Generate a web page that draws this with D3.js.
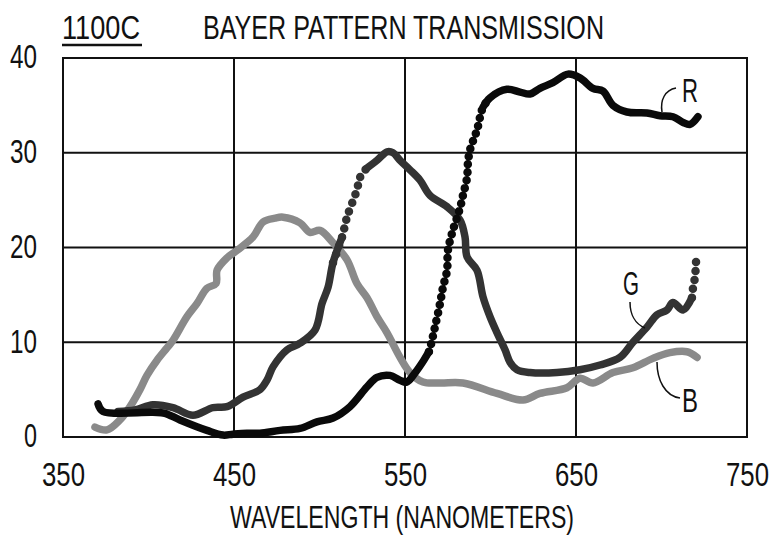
<!DOCTYPE html>
<html>
<head>
<meta charset="utf-8">
<script src="https://cdn.jsdelivr.net/npm/d3@7/dist/d3.min.js"></script>
<style>
  html, body { margin: 0; padding: 0; background: #fff; }
  svg { display: block; }
  text { font-family: "Liberation Sans Narrow", "Liberation Sans", Arial, sans-serif; fill: #111; }
</style>
</head>
<body>
<svg id="chart" width="776" height="535"></svg>
<script>
// ---- data (wavelength nm, transmission) ----
const xTicks = [350, 450, 550, 650, 750];
const yTicks = [0, 10, 20, 30, 40];

const redWl  = [370.5,373.4,402.6,409.6,418.4,434.2,443.6,449.4,457.6,465.2,476.9,488.6,498.5,507.9,517.8,527.8,533.6,541.2,547,551,556,561,564,565.5,567.5,570.5,572.2,574.6,575.1,577.5,582.2,583.9,586.3,586.8,588,592.1,595.6,599.7,609.6,617.3,623.1,628.9,636.5,645.3,652.3,659.9,665.8,671.6,679.8,691.5,699.1,706.7,712.6,716.7,721.3];
const redVal = [3.5,2.7,2.6,2.5,1.8,0.7,0.2,0.3,0.4,0.4,0.7,0.9,1.6,2.0,3.2,5.3,6.3,6.5,6.0,5.8,6.8,8.1,9.0,10.0,11.6,14.1,15.8,17.6,19.7,21.5,24.2,25.5,27.4,28.9,30.3,32.4,34.8,35.8,36.7,36.4,36.2,36.8,37.4,38.3,37.9,36.8,36.5,35.0,34.3,34.2,33.9,33.8,33.2,33.0,33.8];

const greenWl  = [382.2,392.1,402.6,414.3,426,437.7,445.9,455.3,465.2,469.3,472.8,481,488.6,497.4,501.5,505,507.9,513.2,516.1,521.9,523.7,527.8,533.6,539.5,543,547.1,552.9,558.8,564.6,574.6,582.2,585.1,586.3,592.1,595.6,599.7,603.8,608.5,611.4,615.5,623.1,638.9,652.3,664,675.7,683.3,691.5,697.4,703.2,706.7,712.6,717.8,718.4,719.6,720.2];
const greenVal = [2.7,2.85,3.4,3.1,2.3,3.1,3.2,4.2,5.0,6.0,7.4,9.2,9.9,11.3,14.1,15.8,18.4,21.1,23.2,26.1,27.4,28.4,29.2,30.1,30.0,29.2,28.2,27.1,25.5,24.3,22.9,21.1,19.0,17.6,14.8,12.7,11.0,9.2,7.9,7.1,6.8,6.8,7.1,7.6,8.4,10.0,11.6,12.9,13.4,14.2,13.4,14.7,15.7,16.9,18.5];

const blueWl  = [368.7,375.7,383.3,389.2,395,399.1,405,410.8,414.3,422.5,428.4,434.2,439.5,440.1,445.9,451.8,461.1,467,474,478.7,488.6,494.4,500.3,507.9,516.1,521.9,527.8,533.6,539.5,547.1,552.9,560.5,570.5,583.9,603.8,619,628.9,644.7,652.3,659.9,671.6,683.3,695,704.9,714.9,720.8];
const blueVal = [1.05,0.75,1.8,3.2,5.0,6.5,8.1,9.4,10.2,12.7,14.1,15.7,16.2,17.6,18.9,19.7,21.1,22.7,23.1,23.2,22.6,21.6,21.8,20.5,18.7,16.2,14.7,12.7,11.0,8.4,6.8,5.8,5.7,5.7,4.6,3.9,4.6,5.2,6.2,5.7,6.8,7.3,8.3,8.9,9.0,8.4];

// wavelength ranges drawn as a dotted trace
const redDotted   = [[564, 596]];
const greenDotted = [[513, 527], [718, 721]];
const blueDotted  = [];

const seriesNames = ["R", "G", "B"];

// ---- layout ----
const FONT = '"Liberation Sans Narrow", "Liberation Sans", Arial, sans-serif';
const svg = d3.select("#chart");
const x = d3.scaleLinear().domain([350, 750]).range([63, 747]);
const y = d3.scaleLinear().domain([0, 40]).range([437, 58]);

// grid lines
svg.append("g").selectAll("line").data(xTicks.slice(1, -1)).join("line")
  .attr("x1", d => x(d)).attr("x2", d => x(d))
  .attr("y1", y(40)).attr("y2", y(0))
  .attr("stroke", "#111").attr("stroke-width", 2);
svg.append("g").selectAll("line").data(yTicks.slice(1, -1)).join("line")
  .attr("x1", x(350)).attr("x2", x(750))
  .attr("y1", d => y(d)).attr("y2", d => y(d))
  .attr("stroke", "#111").attr("stroke-width", 2);
svg.append("rect")
  .attr("x", x(350)).attr("y", y(40))
  .attr("width", x(750) - x(350)).attr("height", y(0) - y(40))
  .attr("fill", "none").attr("stroke", "#111").attr("stroke-width", 2);

// axes (labels only)
const xAxis = svg.append("g").attr("transform", `translate(0,${y(0)})`)
  .call(d3.axisBottom(x).tickValues(xTicks).tickSize(0).tickPadding(26).tickFormat(d3.format("d")));
xAxis.select(".domain").remove();
xAxis.selectAll("text").attr("font-size", 33).attr("fill", "#111")
  .attr("textLength", 43).attr("lengthAdjust", "spacingAndGlyphs")
  .style("font-family", FONT);

const yAxis = svg.append("g").attr("transform", `translate(${x(350)},0)`)
  .call(d3.axisLeft(y).tickValues(yTicks).tickSize(0).tickPadding(26).tickFormat(d3.format("d")));
yAxis.select(".domain").remove();
yAxis.selectAll("text").attr("font-size", 33).attr("fill", "#111").attr("dy", "0.3em")
  .attr("textLength", d => d === 0 ? 13 : 27).attr("lengthAdjust", "spacingAndGlyphs")
  .style("font-family", FONT);

// titles
svg.append("text").attr("x", 62).attr("y", 39).attr("font-size", 34)
  .attr("textLength", 78).attr("lengthAdjust", "spacingAndGlyphs").text("1100C");
svg.append("line").attr("x1", 62).attr("x2", 142).attr("y1", 45).attr("y2", 45)
  .attr("stroke", "#111").attr("stroke-width", 2.5);
svg.append("text").attr("x", 203).attr("y", 39).attr("font-size", 34)
  .attr("textLength", 401).attr("lengthAdjust", "spacingAndGlyphs").text("BAYER PATTERN TRANSMISSION");
svg.append("text").attr("x", 402).attr("y", 528).attr("font-size", 32).attr("text-anchor", "middle")
  .attr("textLength", 344).attr("lengthAdjust", "spacingAndGlyphs").text("WAVELENGTH (NANOMETERS)");

// ---- curves ----
const line = d3.line().x(d => x(d[0])).y(d => y(d[1])).curve(d3.curveCatmullRom.alpha(0.5));

function drawSeries(wl, val, dotted, color, width, dash) {
  const pts = wl.map((w, i) => [w, val[i]]);
  const inDotted = w => dotted.some(r => w > r[0] && w < r[1]);
  const pieces = [];
  let cur = [];
  pts.forEach((p, i) => {
    cur.push(p);
    const next = pts[i + 1];
    if (next && inDotted((p[0] + next[0]) / 2)) {
      if (cur.length > 1) pieces.push(cur);
      cur = [];
    } else if (!next) {
      if (cur.length > 1) pieces.push(cur);
    }
  });
  const g = svg.append("g");
  g.selectAll("path").data(pieces).join("path")
    .attr("d", line).attr("fill", "none").attr("stroke", color)
    .attr("stroke-width", width).attr("stroke-linecap", "round").attr("stroke-linejoin", "round");
  dotted.forEach(r => {
    const seg = pts.filter((p, i) => {
      const prev = pts[i - 1], next = pts[i + 1];
      return (p[0] >= r[0] && p[0] <= r[1]) ||
             (next && next[0] > r[0] && p[0] <= r[0]) ||
             (prev && prev[0] < r[1] && p[0] >= r[1]);
    });
    if (seg.length > 1) {
      g.append("path").attr("d", line(seg)).attr("fill", "none").attr("stroke", color)
        .attr("stroke-width", width + 1).attr("stroke-linecap", "round")
        .attr("stroke-dasharray", dash);
    }
  });
}

drawSeries(blueWl, blueVal, blueDotted, "#8a8a8a", 7.5, "0,9");
drawSeries(greenWl, greenVal, greenDotted, "#333333", 7.5, "0,9");
drawSeries(redWl, redVal, redDotted, "#0a0a0a", 7.5, "0,8");

// ---- series labels with leader lines ----
const labels = [
  { name: seriesNames[0], tx: 682, ty: 102, path: "M662,112 C660,100 665,90 676,88" },
  { name: seriesNames[1], tx: 623, ty: 295, path: "M630,302 C630,314 635,324 645,328" },
  { name: seriesNames[2], tx: 682, ty: 412, path: "M657,362 C657,380 665,396 680,398" }
];
labels.forEach(l => {
  svg.append("path").attr("d", l.path).attr("fill", "none").attr("stroke", "#111").attr("stroke-width", 1.5);
  svg.append("text").attr("x", l.tx).attr("y", l.ty).attr("font-size", 34)
    .attr("textLength", 16).attr("lengthAdjust", "spacingAndGlyphs").text(l.name);
});
</script>
</body>
</html>
